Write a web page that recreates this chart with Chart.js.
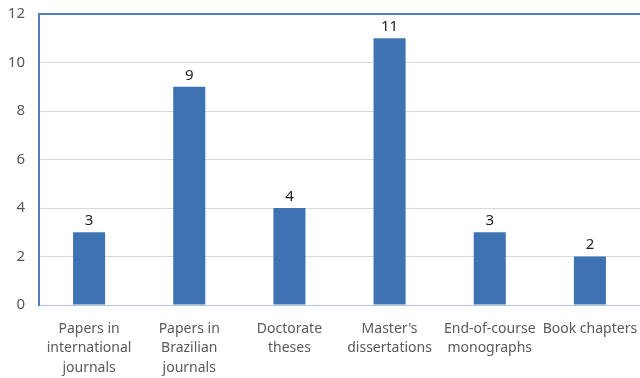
<!DOCTYPE html>
<html>
<head>
<meta charset="utf-8">
<script src="https://cdn.jsdelivr.net/npm/chart.js@4"></script>
<style>
  html, body { margin: 0; padding: 0; background: #fff; }
  #wrap { width: 640px; height: 378px; }
</style>
</head>
<body>
<div id="wrap"><canvas id="chart"></canvas></div>
<script>
// chart data
const categories = [
    ["Papers in", "international", "journals"],
    ["Papers in", "Brazilian", "journals"],
    ["Doctorate", "theses"],
    ["Master's", "dissertations"],
    ["End-of-course", "monographs"],
    "Book chapters"
];
const counts = [3, 9, 4, 11, 3, 2];
const yTicks = [0, 2, 4, 6, 8, 10, 12];

const barColor = '#3E73B3';
const frameColor = '#4F7FC0';
const fontFamily = "'Noto Sans', 'Liberation Sans', sans-serif";

// draw the value above each bar
const valueLabels = {
    id: 'valueLabels',
    afterDatasetsDraw(chart) {
        const ctx = chart.ctx;
        ctx.save();
        ctx.font = `15px ${fontFamily}`;
        ctx.fillStyle = '#222';
        ctx.textAlign = 'center';
        ctx.textBaseline = 'bottom';
        chart.getDatasetMeta(0).data.forEach((bar, i) => {
            ctx.fillText(counts[i], bar.x, bar.y - 4);
        });
        ctx.restore();
    }
};

new Chart(document.getElementById('chart'), {
    type: 'bar',
    data: {
        labels: categories,
        datasets: [{
            data: counts,
            backgroundColor: barColor,
            barPercentage: 0.32,
            categoryPercentage: 1.0,
        }]
    },
    options: {
        responsive: true,
        maintainAspectRatio: false,
        animation: false,
        layout: { padding: { top: 14, right: 0, left: 0, bottom: 0 } },
        plugins: {
            legend: { display: false },
            tooltip: { enabled: false }
        },
        scales: {
            x: {
                afterFit(scale) {
                    scale.height = 73;
                    scale.paddingLeft = 0;
                    scale.paddingRight = 0;
                },
                grid: { display: false },
                border: { color: '#b4c3dc', width: 1 },
                ticks: {
                    color: '#595959',
                    font: { family: fontFamily, size: 14, lineHeight: 1.4 },
                    maxRotation: 0,
                    autoSkip: false,
                    padding: 6
                }
            },
            y: {
                min: 0,
                max: 12,
                afterFit(scale) {
                    scale.width = 39;
                    scale.paddingTop = 0;
                    scale.paddingBottom = 0;
                },
                afterBuildTicks(scale) { scale.ticks = yTicks.map(v => ({ value: v })); },
                grid: {
                    color: (c) => c.tick && c.tick.value === 12 ? frameColor : '#d9d9d9',
                    lineWidth: (c) => c.tick && c.tick.value === 12 ? 2 : 1,
                    drawTicks: false
                },
                border: { color: frameColor, width: 2 },
                ticks: {
                    color: '#595959',
                    font: { family: fontFamily, size: 15 },
                    padding: 14
                }
            }
        }
    },
    plugins: [valueLabels]
});
</script>
</body>
</html>
